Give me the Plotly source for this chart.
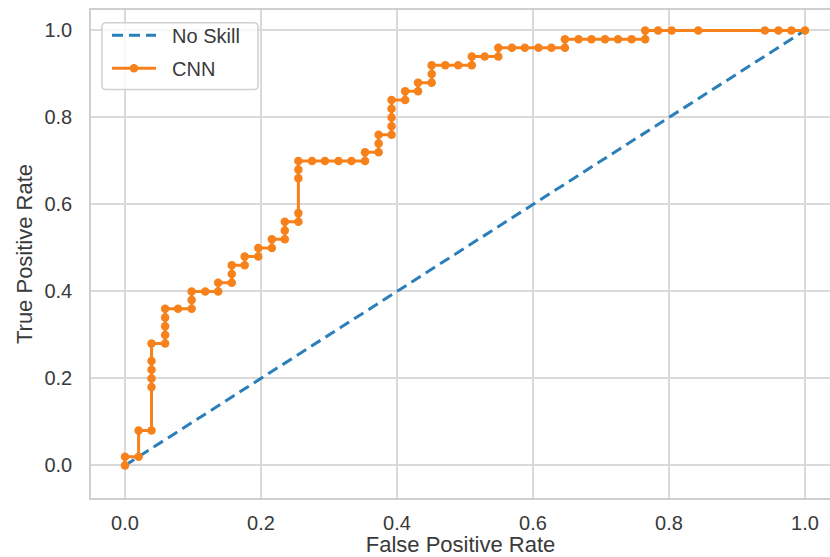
import plotly.graph_objects as go

# ROC curve of the CNN classifier (false / true positive rates per threshold)
fpr = [0.0, 0.0, 0.020, 0.020, 0.039, 0.039, 0.039, 0.039, 0.039, 0.039,
       0.059, 0.059, 0.059, 0.059, 0.059, 0.078, 0.098, 0.098, 0.098, 0.118,
       0.137, 0.137, 0.157, 0.157, 0.157, 0.176, 0.176, 0.196, 0.196, 0.216,
       0.216, 0.235, 0.235, 0.235, 0.255, 0.255, 0.255, 0.255, 0.255, 0.275,
       0.294, 0.314, 0.333, 0.353, 0.353, 0.373, 0.373, 0.373, 0.392, 0.392,
       0.392, 0.392, 0.392, 0.412, 0.412, 0.431, 0.431, 0.451, 0.451, 0.451,
       0.471, 0.490, 0.510, 0.510, 0.529, 0.549, 0.549, 0.569, 0.588, 0.608,
       0.627, 0.647, 0.647, 0.667, 0.686, 0.706, 0.725, 0.745, 0.765, 0.765,
       0.784, 0.804, 0.843, 0.941, 0.961, 0.980, 1.0]
tpr = [0.00, 0.02, 0.02, 0.08, 0.08, 0.18, 0.20, 0.22, 0.24, 0.28,
       0.28, 0.30, 0.32, 0.34, 0.36, 0.36, 0.36, 0.38, 0.40, 0.40,
       0.40, 0.42, 0.42, 0.44, 0.46, 0.46, 0.48, 0.48, 0.50, 0.50,
       0.52, 0.52, 0.54, 0.56, 0.56, 0.58, 0.66, 0.68, 0.70, 0.70,
       0.70, 0.70, 0.70, 0.70, 0.72, 0.72, 0.74, 0.76, 0.76, 0.78,
       0.80, 0.82, 0.84, 0.84, 0.86, 0.86, 0.88, 0.88, 0.90, 0.92,
       0.92, 0.92, 0.92, 0.94, 0.94, 0.94, 0.96, 0.96, 0.96, 0.96,
       0.96, 0.96, 0.98, 0.98, 0.98, 0.98, 0.98, 0.98, 0.98, 1.00,
       1.00, 1.00, 1.00, 1.00, 1.00, 1.00, 1.00]

# Random-guess baseline
ns_fpr = [0.0, 1.0]
ns_tpr = [0.0, 1.0]

tick_vals = [0.0, 0.2, 0.4, 0.6, 0.8, 1.0]

FONT = "Liberation Sans, Arial, sans-serif"
TEXT = "#3a3a3a"
GRID = "#d9d9d9"
PAD = "\u00a0\u00a0"  # gap between legend symbol and label

W, H = 830, 557
ML, MR, MT, MB = 91, 0, 10, 50
PW, PH = W - ML - MR, H - MT - MB


def px_to_paper(px, py):
    return (px - ML) / PW, 1 - (py - MT) / PH


# Rounded, semi-transparent frame behind the legend entries
bx0, by1 = px_to_paper(102, 23)
bx1, by0 = px_to_paper(258, 91)
rx, ry = 4 / PW, 4 / PH
legend_frame = (
    f"M {bx0+rx},{by1} L {bx1-rx},{by1} Q {bx1},{by1} {bx1},{by1-ry} "
    f"L {bx1},{by0+ry} Q {bx1},{by0} {bx1-rx},{by0} "
    f"L {bx0+rx},{by0} Q {bx0},{by0} {bx0},{by0+ry} "
    f"L {bx0},{by1-ry} Q {bx0},{by1} {bx0+rx},{by1} Z"
)

fig = go.Figure()
fig.add_trace(go.Scatter(
    x=ns_fpr, y=ns_tpr, mode="lines", name=PAD + "No Skill", legendgroup="ns",
    line=dict(color="#2a7fba", width=3, dash="11px,6px"),
))
fig.add_trace(go.Scatter(
    x=fpr, y=tpr, mode="lines+markers", name=PAD + "CNN", legendgroup="cnn",
    line=dict(color="#f7811a", width=3),
    marker=dict(color="#f7811a", size=8.5),
))

fig.add_shape(
    type="path", path=legend_frame, xref="paper", yref="paper", layer="above",
    fillcolor="rgba(255,255,255,0.8)", line=dict(color="#d0d0d0", width=1.5),
)

fig.update_layout(
    width=W, height=H,
    margin=dict(l=ML, r=MR, t=MT, b=MB),
    paper_bgcolor="white", plot_bgcolor="white",
    font=dict(family=FONT, size=20, color=TEXT),
    showlegend=True,
    legend=dict(
        x=16 / PW, y=0.988, xanchor="left", yanchor="top",
        bgcolor="rgba(0,0,0,0)", borderwidth=0,
        font=dict(family=FONT, size=20, color=TEXT),
        itemwidth=44, tracegroupgap=4,
    ),
    xaxis=dict(
        range=[-0.05, 1.0368], tickvals=tick_vals, tickformat=".1f",
        showgrid=True, gridcolor=GRID, gridwidth=1.5, zeroline=False,
        showline=True, linecolor="#cfcfcf", linewidth=1.5, mirror=True,
        ticks="", ticklabelstandoff=6,
        title=dict(text="False Positive Rate", font=dict(size=22, color=TEXT), standoff=8),
    ),
    yaxis=dict(
        range=[-0.075, 1.047], tickvals=tick_vals, tickformat=".1f",
        showgrid=True, gridcolor=GRID, gridwidth=1.5, zeroline=False,
        showline=True, linecolor="#cfcfcf", linewidth=1.5,
        ticks="", ticklabelstandoff=13,
        title=dict(text="True Positive Rate", font=dict(size=22, color=TEXT), standoff=6),
    ),
)

fig.write_html("out.html")
